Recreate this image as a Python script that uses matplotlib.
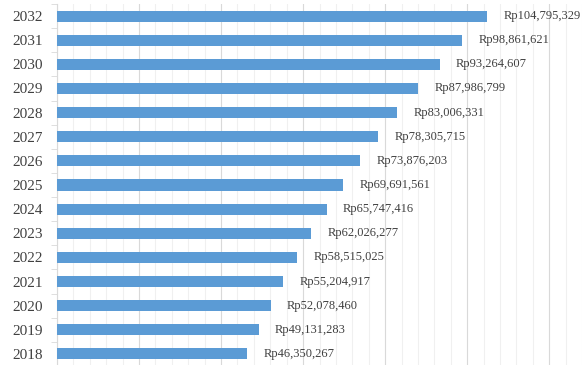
import matplotlib.pyplot as plt
from matplotlib.ticker import MultipleLocator

years = ['2018', '2019', '2020', '2021', '2022', '2023', '2024', '2025',
         '2026', '2027', '2028', '2029', '2030', '2031', '2032']
values = [46350267, 49131283, 52078460, 55204917, 58515025, 62026277,
          65747416, 69691561, 73876203, 78305715, 83006331, 87986799,
          93264607, 98861621, 104795329]

plt.rcParams['font.family'] = ['Liberation Serif', 'DejaVu Serif']

fig = plt.figure(figsize=(5.82, 3.65), dpi=100)
ax = fig.add_axes([57 / 582, -1 / 365, 1 - 57 / 582, 362 / 365])

y = range(len(years))
ax.barh(y, values, height=0.46, color='#5B9BD5', zorder=3)

for i, v in enumerate(values):
    ax.text(v + 4.0e6, i, 'Rp{:,}'.format(v), va='center', ha='left',
            fontsize=9, color='#404040', zorder=4)

ax.set_ylim(-0.5, len(years) - 0.5)
ax.set_xlim(0, 128e6)
ax.set_yticks(list(y))
ax.set_yticklabels(years, fontsize=11, color='#404040')
ax.set_yticks([i + 0.5 for i in range(-1, len(years))], minor=True)
ax.tick_params(axis='y', which='major', length=0, pad=10)
ax.tick_params(axis='y', which='minor', length=4, color='#d9d9d9')

ax.xaxis.set_major_locator(MultipleLocator(20e6))
ax.xaxis.set_minor_locator(MultipleLocator(4e6))
ax.tick_params(axis='x', which='both', length=0, labelbottom=False)
ax.grid(axis='x', which='major', color='#d9d9d9', lw=0.8, zorder=0)
ax.grid(axis='x', which='minor', color='#f0f0f0', lw=0.8, zorder=0)

for s in ['top', 'right', 'bottom']:
    ax.spines[s].set_visible(False)
ax.spines['left'].set_color('#d9d9d9')

fig.savefig('out.png', dpi=100)
